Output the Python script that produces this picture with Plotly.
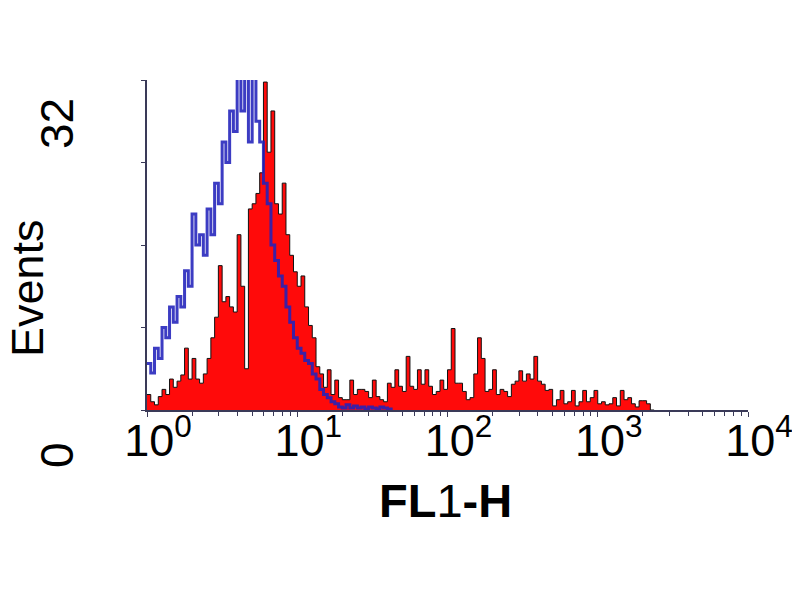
import plotly.graph_objects as go

# Histogram channels: 40 channels per decade on a 4-decade log scale (10^0 .. 10^4)
CH_PER_DECADE = 40

# Stained sample (red filled histogram), counts per channel starting at 10^0
red_counts = [
    1.5, 0.8, 0.5, 1.3, 2.0, 1.5, 3.0, 2.2, 2.8, 3.4,
    6.0, 3.0, 5.0, 3.0, 2.6, 3.5, 5.0, 7.0, 9.0, 14.0,
    10.5, 11.0, 10.0, 9.5, 17.0, 12.0, 4.0, 19.5, 20.0, 21.0,
    23.0, 31.8, 25.0, 29.0, 20.0, 19.0, 22.0, 17.0, 15.0, 13.4,
    12.0, 13.0, 10.0, 8.2, 7.0, 4.2, 3.5, 2.2, 3.9, 1.5,
    2.9, 1.2, 1.0, 1.0, 2.9, 1.5, 2.0, 2.0, 1.8, 1.2,
    2.9, 1.3, 1.0, 0.8, 2.6, 2.2, 3.9, 2.3, 1.8, 5.2,
    2.3, 2.0, 3.9, 2.5, 3.9, 2.3, 1.5, 1.8, 2.9, 2.0,
    3.9, 7.9, 2.6, 2.6, 1.8, 1.0, 1.2, 3.5, 7.0, 5.0,
    1.8, 2.0, 3.9, 1.5, 2.0, 1.8, 1.3, 2.5, 2.8, 3.8,
    2.8, 3.5, 3.0, 5.2, 2.8, 2.5, 1.9, 2.0, 0.4, 1.0,
    1.9, 0.6, 0.8, 1.9, 0.4, 0.8, 1.9, 0.8, 1.2, 1.9,
    0.6, 0.8, 0.5, 0.6, 1.2, 0.4, 1.9, 1.0, 1.2, 0.6,
    0.3, 0.9, 0.9, 0.6, 0.0, 0.0,
]

# Isotype control (blue outline histogram), counts per channel starting at 10^0
blue_counts = [
    4.5, 3.6, 6.0, 5.0, 8.0, 7.0, 10.0, 8.5, 11.0, 10.0,
    13.5, 12.0, 19.0, 16.0, 17.0, 15.0, 19.5, 17.0, 22.0, 20.0,
    26.0, 24.0, 29.0, 27.0, 34.0, 29.0, 34.0, 26.0, 34.0, 28.0,
    26.0, 22.0, 20.0, 16.0, 14.5, 13.0, 12.0, 10.0, 8.5, 7.0,
    6.0, 5.5, 4.8, 4.5, 3.5, 3.0, 2.0, 1.5, 1.2, 0.8,
    0.6, 0.3, 0.2, 0.5, 0.2, 0.4, 0.2, 0.3, 0.1, 0.3,
    0.2, 0.1, 0.3, 0.2, 0.1, 0.0,
]

x_tick_values = [1, 10, 100, 1000, 10000]
x_tick_labels = ["10<sup>0</sup>", "10<sup>1</sup>", "10<sup>2</sup>",
                 "10<sup>3</sup>", "10<sup>4</sup>"]
y_tick_values = [0, 8, 16, 24, 32]
y_label_top = "32"
y_label_bottom = "0"
x_title = "<b>FL</b>1<b>-H</b>"
y_title = "Events"

red_x = [10 ** (ch / CH_PER_DECADE) for ch in range(len(red_counts))]
blue_x = [10 ** (ch / CH_PER_DECADE) for ch in range(len(blue_counts))]

FONT = "Liberation Sans, Arial, sans-serif"
AXIS_COLOR = "#3a3a58"

fig = go.Figure()
fig.add_trace(go.Scatter(
    x=red_x, y=red_counts, mode="lines", line_shape="hv",
    line=dict(color="#111111", width=1),
    fill="tozeroy", fillcolor="#ff0a0a", showlegend=False,
))
fig.add_trace(go.Scatter(
    x=blue_x, y=blue_counts, mode="lines", line_shape="hv",
    line=dict(color="#2222bb", width=3), opacity=0.88, showlegend=False,
))

minor_vals = [m * 10 ** d for d in range(4) for m in range(2, 10)]

fig.update_xaxes(
    type="log", range=[0, 4],
    tickvals=x_tick_values, ticktext=x_tick_labels,
    ticks="outside", ticklen=5, tickwidth=1.2, tickcolor=AXIS_COLOR,
    minor=dict(tickvals=minor_vals, ticks="outside", ticklen=4,
               tickwidth=1, tickcolor=AXIS_COLOR),
    showline=True, linecolor=AXIS_COLOR, linewidth=1.5,
    showgrid=False, zeroline=False,
    ticklabelshift=11, ticklabelstandoff=-15,
    tickfont=dict(family=FONT, size=45, color="black"),
)
fig.update_yaxes(
    range=[0, 32], tickvals=y_tick_values, showticklabels=False,
    ticks="outside", ticklen=4, tickwidth=1.2, tickcolor=AXIS_COLOR,
    showline=True, linecolor=AXIS_COLOR, linewidth=1.5,
    showgrid=False, zeroline=False,
)

# The page body adds an 8px offset, so the margins are set 8px smaller
OFF = 8
W, H = 800, 600
L, R, T, B = 147 - OFF, 52 + OFF, 80 - OFF, 190 + OFF
pw, ph = W - L - R, H - T - B


def px(xp, yp):
    return (xp - OFF - L) / pw, (H - B - (yp - OFF)) / ph


annots = []
for text, (xp, yp), size, ang in [
    (y_label_top, (57, 124), 46, -90),
    (y_label_bottom, (57, 455), 46, -90),
    (y_title, (27, 288), 45, -90),
    (x_title, (445, 500), 47, 0),
]:
    ax_, ay_ = px(xp, yp)
    annots.append(dict(text=text, x=ax_, y=ay_, xref="paper", yref="paper",
                       showarrow=False, textangle=ang,
                       xanchor="center", yanchor="middle",
                       font=dict(family=FONT, size=size, color="black")))

fig.update_layout(
    width=W, height=H,
    margin=dict(l=L, r=R, t=T, b=B),
    plot_bgcolor="white", paper_bgcolor="white",
    annotations=annots, showlegend=False,
)

fig.write_html("out.html")
